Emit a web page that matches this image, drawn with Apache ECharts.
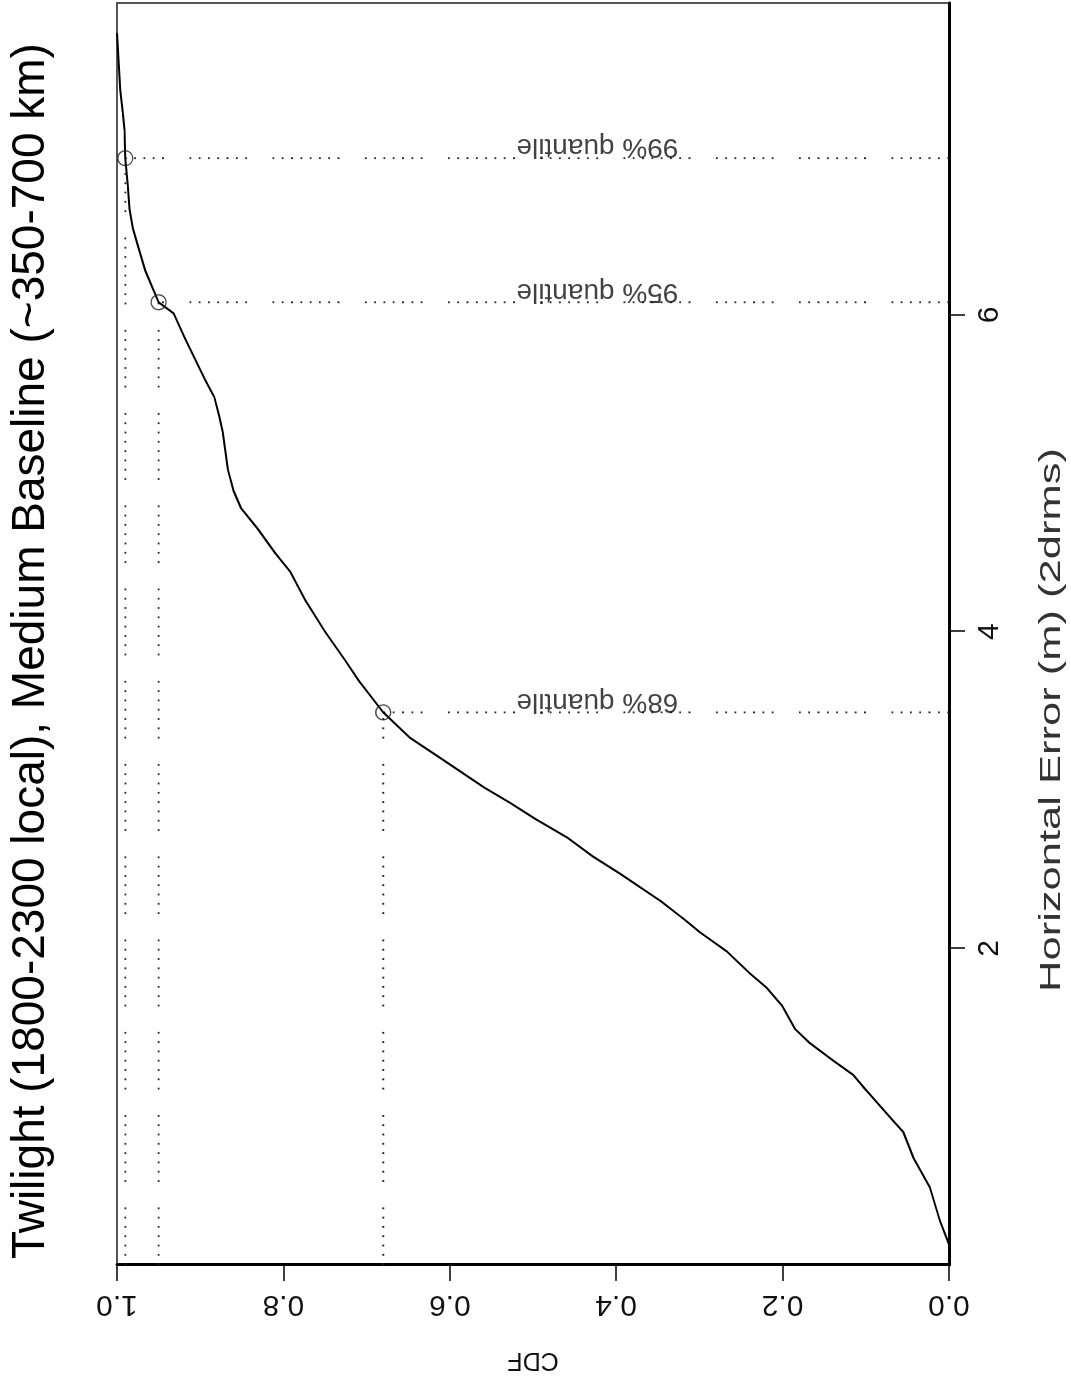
<!DOCTYPE html>
<html>
<head>
<meta charset="utf-8">
<title>Twilight CDF</title>
<script src="https://cdn.jsdelivr.net/npm/echarts@6/dist/echarts.min.js"></script>
<style>
  html, body { margin: 0; padding: 0; background: #fff; overflow: hidden; }
  #page { position: absolute; left: 0; top: 0; width: 1071px; height: 1385px; overflow: hidden; background: #fff; }
  /* the plot is laid out upright (1385 x 1071) and turned a quarter counter-clockwise */
  #chart { position: absolute; left: 0; top: 0; width: 1385px; height: 1071px;
           transform-origin: 0 0; transform: translate(0, 1385px) rotate(-90deg); }
</style>
</head>
<body>
<div id="page"><div id="chart"></div></div>
<script>
// empirical CDF of horizontal error (2drms, metres)
const errorM = [0.13, 0.28, 0.49, 0.68, 0.84, 0.91, 1.10, 1.20, 1.29, 1.40,
                1.49, 1.64, 1.75, 1.84, 1.98, 2.10, 2.19, 2.30, 2.47, 2.58,
                2.70, 2.81, 2.92, 3.02, 3.19, 3.33, 3.49, 3.68, 3.82, 4.00,
                4.20, 4.38, 4.49, 4.65, 4.78, 4.89, 5.03, 5.26, 5.36, 5.48,
                5.59, 5.72, 5.86, 6.01, 6.08, 6.28, 6.44, 6.55, 6.67, 6.82,
                6.99, 7.17, 7.28, 7.42, 7.78];
const cdfValues = [0.000, 0.011, 0.023, 0.043, 0.055, 0.067, 0.099, 0.115, 0.139, 0.167,
                   0.185, 0.201, 0.219, 0.239, 0.267, 0.299, 0.320, 0.347, 0.395, 0.428,
                   0.459, 0.495, 0.528, 0.560, 0.608, 0.648, 0.680, 0.708, 0.726, 0.750,
                   0.774, 0.792, 0.809, 0.831, 0.851, 0.860, 0.867, 0.873, 0.877, 0.883,
                   0.894, 0.906, 0.919, 0.932, 0.950, 0.966, 0.975, 0.981, 0.985, 0.987,
                   0.990, 0.991, 0.993, 0.996, 1.000];

// marked quantiles
const quantileNames = ['68% quantile', '95% quantile', '99% quantile'];
const quantileProb  = [0.68, 0.95, 0.99];
const quantileError = [3.49, 6.08, 6.99];

// axis ticks
const errorTicks = [2, 4, 6];
const cdfTicks = [0, 0.2, 0.4, 0.6, 0.8, 1.0];

const FONT = '"Liberation Sans", Arial, Helvetica, sans-serif';
const INK = '#111';

// dotted guide pattern: small dots with a longer pause after each run
function dotRuns(runs) {
  const d = [];
  runs.forEach(n => {
    for (let i = 0; i < n; i++) {
      d.push(1.8, i === n - 1 ? 25.5 : 7.5);
    }
  });
  return d;
}
const guideDash = dotRuns([7, 8]);

const curve = errorM.map((x, i) => [x, cdfValues[i]]);

const series = [];

// guide lines from the axes to each quantile point
quantileProb.forEach((p, i) => {
  const q = quantileError[i];
  const style = { color: '#222', width: 1.8, type: guideDash, dashOffset: 0, cap: 'butt' };
  series.push({
    type: 'line', data: [[q, 0], [q, p]], symbol: 'none', silent: true, z: 1,
    lineStyle: style, animation: false
  });
  series.push({
    type: 'line', data: [[0, p], [q, p]], symbol: 'none', silent: true, z: 1,
    lineStyle: style, animation: false
  });
});

// the CDF curve
series.push({
  type: 'line', data: curve, symbol: 'none', smooth: false, z: 3,
  lineStyle: { color: '#000', width: 2 }, animation: false
});

// open circles on the quantiles
series.push({
  type: 'scatter', data: quantileError.map((q, i) => [q, quantileProb[i]]),
  symbol: 'circle', symbolSize: 15, z: 4,
  itemStyle: { color: 'rgba(255,255,255,0)', borderColor: '#222', borderWidth: 1.4 },
  animation: false
});

// quantile captions running along the vertical guides
series.push({
  type: 'scatter',
  data: quantileError.map((q, i) => ({ value: [q, 0.4226], name: quantileNames[i] })),
  symbolSize: 0, z: 5, silent: true, animation: false,
  label: {
    show: true, position: 'inside', rotate: 90, align: 'center', verticalAlign: 'top',
    offset: [0, -3], formatter: p => p.name,
    fontFamily: FONT, fontSize: 28, color: INK
  }
});

const chart = echarts.init(document.getElementById('chart'), null, { renderer: 'canvas' });
chart.setOption({
  backgroundColor: '#fff',
  animation: false,
  title: {
    text: 'Twilight (1800-2300 local), Medium Baseline (~350-700 km)',
    left: 734, top: 8, padding: 0, textAlign: 'center',
    textStyle: { fontFamily: FONT, fontSize: 46, fontWeight: 'normal', color: '#000' }
  },
  grid: {
    left: 120, right: 3, top: 117, bottom: 122,
    show: true, borderColor: '#555', borderWidth: 2, backgroundColor: 'transparent'
  },
  // x-axis title, set a little wide
  graphic: [{
    type: 'text', x: 665, y: 1052, scaleX: 1.45, scaleY: 1, silent: true,
    style: {
      text: 'Horizontal Error (m) (2drms)', font: '30px ' + FONT, fill: '#333',
      textAlign: 'center', textVerticalAlign: 'middle'
    }
  }],
  xAxis: {
    type: 'value', min: 0, max: 7.97,
    axisLine: { show: true, onZero: false, lineStyle: { color: '#000', width: 3 } },
    axisTick: { show: true, length: 16, inside: false, customValues: errorTicks,
                lineStyle: { color: '#000', width: 1.5 } },
    axisLabel: { show: true, customValues: errorTicks, margin: 26,
                 fontFamily: FONT, fontSize: 30, color: INK },
    splitLine: { show: false }
  },
  yAxis: {
    type: 'value', min: 0, max: 1, interval: 0.2,
    name: 'CDF', nameLocation: 'middle', nameGap: 82, nameRotate: 90,
    nameTextStyle: { fontFamily: FONT, fontSize: 25, color: INK },
    axisLine: { show: true, onZero: false, lineStyle: { color: '#000', width: 3 } },
    axisTick: { show: true, length: 16, inside: false, customValues: cdfTicks,
                lineStyle: { color: '#000', width: 1.5 } },
    axisLabel: { show: true, rotate: 90, margin: 24, customValues: cdfTicks,
                 formatter: v => v.toFixed(1),
                 fontFamily: FONT, fontSize: 30, color: INK },
    splitLine: { show: false }
  },
  series: series
});
</script>
</body>
</html>
